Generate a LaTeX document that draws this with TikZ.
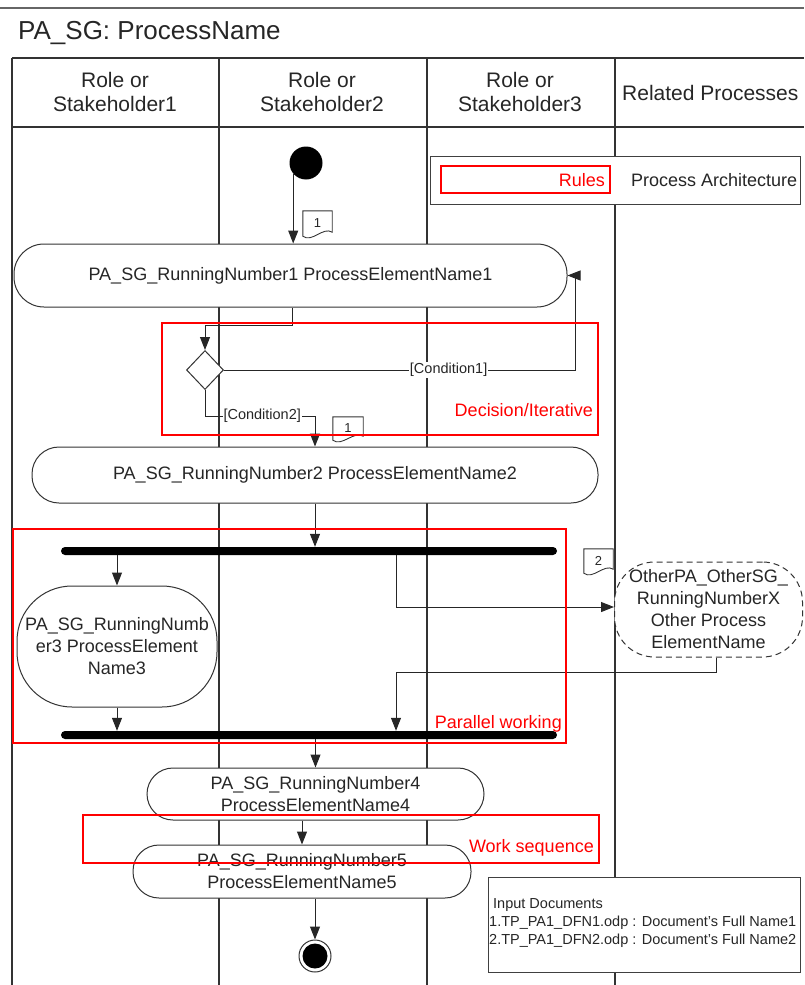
\documentclass[tikz,border=0pt]{standalone}
\usepackage{fontspec}
\setmainfont{Liberation Sans}
\usetikzlibrary{shapes.geometric,arrows.meta}

\newcommand\pnfnt{\fontsize{18}{22}\selectfont}
\newcommand\headfnt{\fontsize{21}{24}\selectfont}
\newcommand\titlefnt{\fontsize{26}{29}\selectfont}
\newcommand\condfnt{\fontsize{14.5}{18}\selectfont}
\newcommand\iconfnt{\fontsize{13}{15}\selectfont}

\begin{document}
\begin{tikzpicture}[x=1pt,y=-1pt,
  every node/.style={text=black!85},
  lane/.style={draw=black!80,line width=1.3pt},
  proc/.style={draw=black!80,fill=white,line width=1pt,rounded corners=#1,inner sep=0pt,align=center,font=\pnfnt},
  arr/.style={draw=black!85,line width=1pt,-{Triangle[length=13pt,width=10pt]}},
  cond/.style={fill=white,inner sep=1pt,font=\condfnt},
  redbox/.style={draw=red,line width=2.8pt,inner sep=0pt},
  redtext/.style={text=red,font=\pnfnt,inner sep=0pt},
  docicon/.style={inner sep=0pt,font=\iconfnt},
  docline/.style={draw=black!80,line width=0.9pt},
  bar/.style={fill=black,rounded corners=4pt,inner sep=0pt,minimum height=8pt},
  plain/.style={draw=black!75,fill=white,line width=1pt,inner sep=0pt},
  head/.style={align=center,font=\headfnt,inner sep=0pt}
]
\useasboundingbox (0,0) rectangle (804,985);

% page frame and title
\draw[draw=black!60,line width=1.2pt] (0,8) -- (804,8);
\node[anchor=west,font=\titlefnt,inner sep=0pt] (title) at (18,33) {PA\_SG: ProcessName};

% swimlanes
\draw[lane] (12,58) -- (804,58);
\draw[lane] (12,127) -- (804,127);
\foreach \x in {12,219,427,615} \draw[lane] (\x,58) -- (\x,985);

\node[head] (h1) at (115,92) {Role or\\Stakeholder1};
\node[head] (h2) at (322,92) {Role or\\Stakeholder2};
\node[head] (h3) at (520,92) {Role or\\Stakeholder3};
\node[head,anchor=west] (h4) at (622,93) {Related Processes};

% rules / process architecture legend
\node[plain,minimum width=370pt,minimum height=48pt] (arch) at (615,180) {};
\node[redbox,minimum width=169pt,minimum height=27pt] (rules) at (525.5,179.5) {};
\node[redtext,anchor=east] (rulestxt) at (605,180) {Rules};
\node[anchor=west,font=\pnfnt,inner sep=0pt] (archtxt) at (631,180) {Process Architecture};

% start
\node[circle,fill=black,minimum size=33pt,inner sep=0pt] (start) at (306,163) {};

% activities
\node[proc=30pt,minimum width=553pt,minimum height=63pt] (n1) at (290.5,275.5) {PA\_SG\_RunningNumber1 ProcessElementName1};
\node[diamond,draw=black!80,fill=white,line width=1pt,minimum width=37pt,minimum height=39pt,inner sep=0pt] (dec) at (205,370) {};
\node[proc=27pt,minimum width=566pt,minimum height=56pt] (n2) at (315,475) {PA\_SG\_RunningNumber2 ProcessElementName2};
\node[bar,minimum width=496pt] (fork) at (309,551) {};
\node[proc=55pt,minimum width=200pt,minimum height=121pt] (n3) at (117,646.5) {PA\_SG\_RunningNumb\\er3 ProcessElement\\Name3};
\node[proc=40pt,dashed,dash pattern=on 6pt off 4pt,minimum width=188pt,minimum height=95pt] (other) at (708.5,609.5) {OtherPA\_OtherSG\_\\RunningNumberX\\Other Process\\ElementName};
\node[bar,minimum width=496pt] (join) at (309,735) {};
\node[proc=26pt,minimum width=337pt,minimum height=52pt] (n4) at (315.5,794) {PA\_SG\_RunningNumber4\\ProcessElementName4};
\node[proc=26pt,minimum width=338pt,minimum height=53pt] (n5) at (302,871.5) {PA\_SG\_RunningNumber5\\ProcessElementName5};

% end
\node[circle,draw=black!80,fill=white,line width=1pt,minimum size=32pt,inner sep=0pt] (end) at (315,956) {};
\node[circle,fill=black,minimum size=25pt,inner sep=0pt] (endin) at (end) {};

% document icons
\node[docicon,minimum width=29pt,minimum height=25pt] (d1) at (317.5,223.5) {1};
\draw[docline] (d1.south west) .. controls +(9,7) and +(-9,-6) .. ([yshift=4pt]d1.south east) -- (d1.north east) -- (d1.north west) -- cycle;
\node[docicon,minimum width=30pt,minimum height=23pt] (d2) at (348,428.5) {1};
\draw[docline] (d2.south west) .. controls +(9,7) and +(-9,-6) .. ([yshift=4pt]d2.south east) -- (d2.north east) -- (d2.north west) -- cycle;
\node[docicon,minimum width=29pt,minimum height=24pt] (d3) at (598.5,561) {2};
\draw[docline] (d3.south west) .. controls +(9,7) and +(-9,-6) .. ([yshift=4pt]d3.south east) -- (d3.north east) -- (d3.north west) -- cycle;

% flows
\draw[arr] (start.220) -- (start.220 |- n1.north);
\coordinate (k1) at (292,325);
\draw[arr] (n1.south -| k1) -- (k1) -| (dec.north);
\coordinate (c1) at (575,370);
\draw[arr] (dec.east) -- node[cond,pos=0.64] {[Condition1]} (c1) |- (n1.east);
\coordinate (c2) at (315,416);
\draw[arr] (dec.south) |- node[cond,pos=0.76] {[Condition2]} (c2) -- (n2.north -| c2);
\draw[arr] (n2.south) -- (n2.south |- fork.north);
\draw[arr] (fork.south -| n3.north) -- (n3.north);
\coordinate (br) at (396,607);
\draw[arr] (fork.south -| br) -- (br) -- (br -| other.west);
\coordinate (oj) at (716,672);
\draw[arr] (other.south -| oj) -- (oj) -| (join.north -| br);
\draw[arr] (n3.south) -- (n3.south |- join.north);
\draw[arr] (join.south -| n4.north) -- (n4.north);
\draw[arr] (n4.south -| n5.north) -- (n5.north);
\draw[arr] (n5.south -| end.north) -- (end.north);

% input documents
\node[plain,minimum width=312pt,minimum height=95pt] (docs) at (644,924.5) {};
\node[anchor=west,align=left,font=\condfnt,inner sep=0pt] (doclist) at (489,923) {\hspace*{4pt}Input Documents\\1.TP\_PA1\_DFN1.odp : Document’s Full Name1\\2.TP\_PA1\_DFN2.odp : Document’s Full Name2};

% highlighted patterns
\node[redbox,minimum width=436pt,minimum height=112pt] (decbox) at (380,379) {};
\node[redtext,anchor=east] (dectxt) at (593,410) {Decision/Iterative};
\node[redbox,minimum width=553pt,minimum height=214pt] (parbox) at (289.5,636) {};
\node[redtext,anchor=east] (partxt) at (562,724) {Parallel working};
\node[redbox,minimum width=516pt,minimum height=48pt] (seqbox) at (341,839) {};
\node[redtext,anchor=east] (seqtxt) at (594,848) {Work sequence};
\end{tikzpicture}
\end{document}
